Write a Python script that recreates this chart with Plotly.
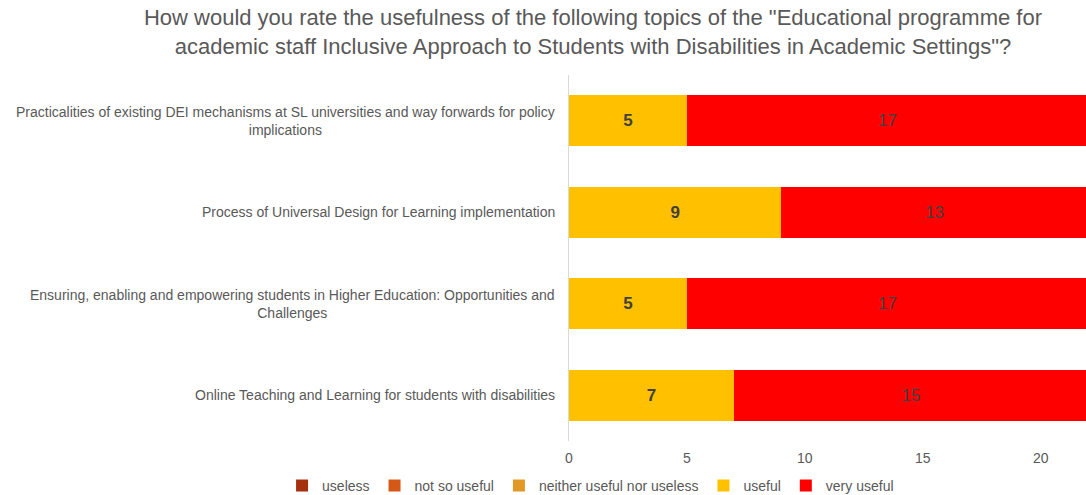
import plotly.graph_objects as go

# Topics, top to bottom
topics = [
    "Practicalities of existing DEI mechanisms at SL universities and way forwards for policy<br>implications",
    "Process of Universal Design for Learning implementation",
    "Ensuring, enabling and empowering students in Higher Education: Opportunities and<br>Challenges",
    "Online Teaching and Learning for students with disabilities",
]

series_names = ["useless", "not so useful", "neither useful nor useless", "useful", "very useful"]
useless = [0, 0, 0, 0]
not_so_useful = [0, 0, 0, 0]
neither = [0, 0, 0, 0]
useful = [5, 9, 5, 7]
very_useful = [17, 13, 17, 15]

colors = ["#A5300F", "#D55816", "#E19825", "#FFC000", "#FF0000"]
x_ticks = [0, 5, 10, 15, 20]

title_text = ('How would you rate the usefulness of the following topics of the "Educational programme for<br>'
              'academic staff Inclusive Approach to Students with Disabilities in Academic Settings"?')

font_family = "Liberation Sans, Arial, sans-serif"
grey = "#595959"

fig = go.Figure()
all_values = [useless, not_so_useful, neither, useful, very_useful]
for name, vals, col in zip(series_names, all_values, colors):
    show_text = any(v > 0 for v in vals)
    bold = name == "useful"
    fig.add_trace(go.Bar(
        name=name,
        y=list(range(len(topics))),
        x=vals,
        orientation="h",
        marker=dict(color=col, line=dict(width=0)),
        text=[f"<b>{v}</b>" if bold else str(v) for v in vals] if show_text else None,
        textposition="inside" if show_text else "none",
        insidetextanchor="middle",
        textangle=0,
        textfont=dict(family=font_family, size=17, color="#404040"),
        hoverinfo="x+name",
    ))

# Category labels: centered multi-line blocks, right-anchored against the axis
for i, t in enumerate(topics):
    fig.add_annotation(
        x=0, xref="paper", y=i, yref="y",
        text=t, showarrow=False, xanchor="right", align="center",
        xshift=-12,
        font=dict(family=font_family, size=14, color=grey),
    )

fig.update_layout(
    barmode="stack",
    bargap=0.44,
    width=1086, height=495,
    margin=dict(l=569, r=0, t=75, b=54, autoexpand=False),
    paper_bgcolor="white",
    plot_bgcolor="white",
    font=dict(family=font_family, color=grey),
    title=dict(text=title_text, x=0.546, xanchor="center", yref="container", y=0.949, yanchor="top",
               font=dict(family=font_family, size=22, color=grey)),
    xaxis=dict(range=[0, 21.92], tickvals=x_ticks, showgrid=False, zeroline=False,
               showline=False, ticks="", ticklabelstandoff=7,
               tickfont=dict(size=14, color=grey, family=font_family)),
    yaxis=dict(range=[3.5, -0.5], showticklabels=False, showgrid=False, zeroline=False,
               showline=True, linecolor="#D9D9D9", linewidth=1, ticks=""),
    legend=dict(orientation="h", x=-0.555, xanchor="left", y=-0.079, yanchor="top",
                font=dict(family=font_family, size=14, color=grey),
                traceorder="normal", itemwidth=30, tracegroupgap=0),
    showlegend=True,
)

fig.write_html("out.html")
